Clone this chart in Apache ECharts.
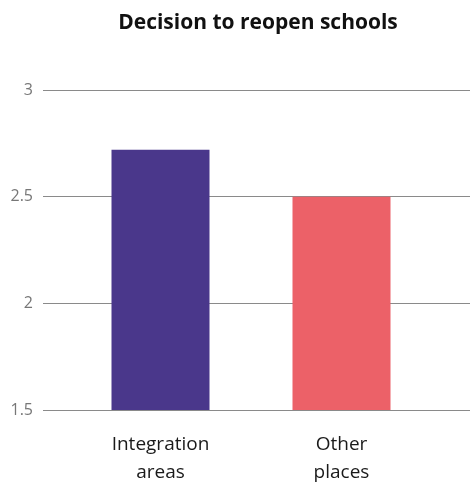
<!DOCTYPE html>
<html><head><meta charset="utf-8">
<script src="https://cdn.jsdelivr.net/npm/echarts@6/dist/echarts.min.js"></script>
<style>html,body{margin:0;padding:0;background:#fff}#c{width:470px;height:486px}</style>
</head><body><div id="c"></div>
<script>
const categories = ['Integration\nareas', 'Other\nplaces'];
const values = [2.72, 2.5];
const colors = ['#4a378b', '#ec6168'];
const yTicks = [1.5, 2, 2.5, 3];

const chart = echarts.init(document.getElementById('c'));
const yMin = yTicks[0], yMax = yTicks[yTicks.length - 1];
chart.setOption({
  animation: false,
  title: {
    text: 'Decision to reopen schools', left: 253, top: 8, textAlign: 'center',
    textStyle: { fontFamily: 'Open Sans', fontWeight: 'bold', fontSize: 21, color: '#111' }
  },
  grid: [
    { left: 43, right: 0, top: 90, bottom: 76, outerBoundsMode: 'none', containLabel: false },
    { left: 70, right: 38, top: 90, bottom: 76, outerBoundsMode: 'none', containLabel: false }
  ],
  xAxis: [
    { gridIndex: 0, type: 'category', data: categories, show: false },
    { gridIndex: 1, type: 'category', data: categories,
      axisLine: { show: false }, axisTick: { show: false },
      axisLabel: { margin: 21, fontFamily: 'Open Sans', fontSize: 19, lineHeight: 28, color: '#1a1a1a' } }
  ],
  yAxis: [
    { gridIndex: 0, type: 'value', min: yMin, max: yMax, interval: 0.5,
      axisLine: { show: false }, axisTick: { show: false },
      axisLabel: { margin: 10, fontFamily: 'Open Sans', fontSize: 16, color: '#777' },
      splitLine: { lineStyle: { color: '#8a8a8a', width: 1 } } },
    { gridIndex: 1, type: 'value', min: yMin, max: yMax, interval: 0.5, show: false,
      splitLine: { show: false } }
  ],
  series: [{
    type: 'bar', xAxisIndex: 1, yAxisIndex: 1, barWidth: 98,
    data: values.map((v, i) => ({ value: v, itemStyle: { color: colors[i] } }))
  }]
});
</script></body></html>
